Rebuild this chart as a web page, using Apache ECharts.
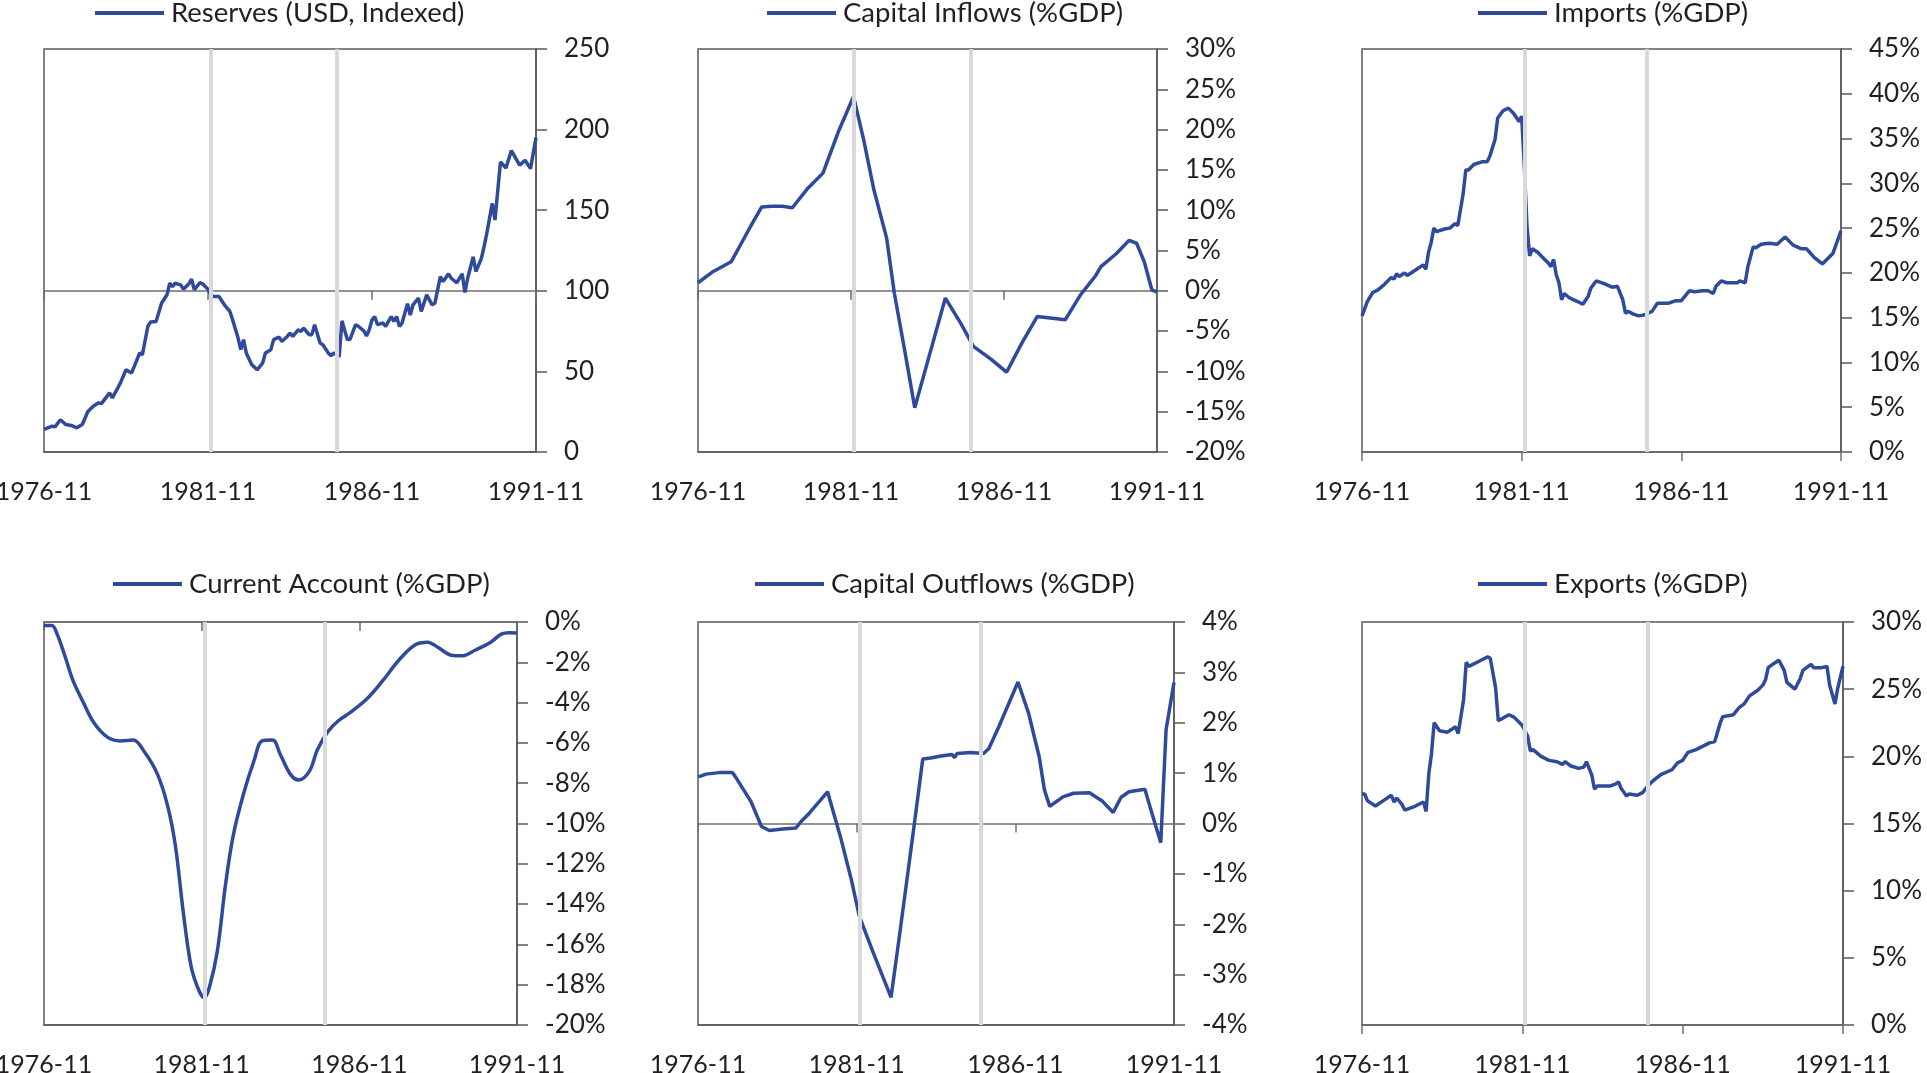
<!DOCTYPE html>
<html>
<head>
<meta charset="utf-8">
<script src="https://cdn.jsdelivr.net/npm/echarts@6/dist/echarts.min.js"></script>
<style>
html,body{margin:0;padding:0;background:#fff;}
#c{width:1927px;height:1073px;}
</style>
</head>
<body>
<div id="c"></div>
<script>
// x values are months since 1976-11 (0 = 1976-11, 180 = 1991-11)
const xTickLabels = ['1976-11', '1981-11', '1986-11', '1991-11'];
const shadeMonths = [61, 107]; // 1981-12, 1985-10

const reservesMonths = [0,3,4,6,8,10,12,14,16,18,20,21,24,25,27,28,30,32,33,35,36,38,39,41,43,45,46,47,48,50,51,53,54,55,57,58,60,61,62,64,66,68,69,71,72,73,74,76,78,80,81,83,84,86,87,89,90,91,93,94,95,97,98,99,101,102,104,105,106,108,109,111,112,114,115,117,118,119,120,121,122,124,125,127,128,129,130,131,133,134,135,137,138,140,142,143,145,146,148,149,151,153,154,155,157,158,160,161,162,164,165,167,169,171,174,176,178,180];
const reservesValues = [14,16,15.6,20,17,16.5,15,17,25,28.4,30.5,30,36.7,33.6,39.8,43,51,49,53,61.4,60.4,78,80.6,81,92.3,97.5,104.8,102.6,104.7,103.7,101,104.3,107.2,100.6,105,104.3,101,97.5,96.5,96.5,91.3,87.2,82,70.7,63.5,69.7,61.4,54.2,51,55.2,61.4,63.5,69.7,71.3,68.6,71.7,73.8,71.7,75.8,74.8,76.9,72.8,72.8,78.9,67.6,66.6,61.4,59.8,61.4,59,81.4,69.7,70,79,78,75.2,72,75.8,82,84,79,80,78,84,81,84,78,80,92,85,91.3,95.4,87.2,97.5,91.3,92.3,108.8,105.7,110.5,107.8,105,110.5,99,107.8,121,112,120,127.4,135.6,154.2,143.9,180,176.2,187,177.9,181,175.8,195];

const inflowsMonths = [0,6,13,17,21,25,29,33,37,43,49,55,61,65,69,74,77,81,85,91,97,103,108,115,121,127,133,139,144,150,156,158,164,169,172,175,178,180];
const inflowsValues = [1.0,2.4,3.6,5.9,8.2,10.4,10.5,10.5,10.3,12.7,14.6,19.7,24.1,18.7,12.5,6.5,-0.3,-7.3,-14.5,-7.7,-0.9,-4.0,-6.9,-8.5,-10.1,-6.5,-3.2,-3.4,-3.6,-0.5,1.9,3.0,4.6,6.25,5.9,3.6,0.1,-0.15];

const importsMonths = [0,2,4,6,8,11,12,13,14,16,17,20,23,24,25,26,27,28,31,33,35,36,38,39,40,42,45,47,48,50,51,53,55,57,59,60,61,62,63,64,66,68,70,71,72,73,74,75,76,78,81,83,85,86,88,91,94,96,98,99,100,102,104,106,109,111,115,118,120,123,125,128,130,132,133,135,137,141,142,144,145,147,148,150,153,156,159,162,165,167,170,173,177,180];
const importsValues = [15.2,16.8,17.8,18.1,18.6,19.5,19.3,19.9,19.6,20.0,19.7,20.3,20.9,20.4,22.3,23.4,25.0,24.6,24.9,25.0,25.5,25.3,28.8,31.5,31.5,32.1,32.4,32.4,33.0,34.9,37.3,38.1,38.4,37.8,36.9,37.5,31.9,25.2,21.9,22.7,22.3,21.7,21.1,20.7,21.5,19.8,18.9,17.0,17.7,17.2,16.8,16.5,17.4,18.3,19.1,18.8,18.4,18.5,17.0,15.5,15.7,15.4,15.2,15.3,15.7,16.6,16.6,16.9,16.9,18.0,17.9,18.0,18.0,17.7,18.5,19.1,18.9,18.9,19.1,18.9,20.7,22.9,22.8,23.2,23.3,23.2,24.0,23.1,22.7,22.7,21.7,21.0,22.2,24.7];

const currentMonths = [0,3,5,8,11,15,19,24,29,34,38,43,47,50,53,56,59,61,63,66,69,72,76,80,83,87,90,94,97,101,104,108,112,117,123,129,135,141,146,150,155,159,164,170,174,177,180];
const currentValues = [-0.17,-0.17,-0.6,-1.7,-2.9,-4.0,-5.0,-5.7,-5.9,-5.86,-6.4,-7.5,-9.1,-11.1,-14.4,-17.1,-18.3,-18.65,-18.1,-16.3,-13.1,-10.6,-8.5,-6.85,-5.9,-5.86,-6.6,-7.6,-7.84,-7.4,-6.35,-5.45,-4.9,-4.45,-3.8,-2.9,-1.9,-1.15,-1.0,-1.27,-1.65,-1.68,-1.4,-1.0,-0.6,-0.53,-0.54];

const outflowsMonths = [0,1,3,8,13,14,20,24,27,32,37,39,42,49,54,58,61,66,73,76,79,82,85,88,92,96,97,98,103,108,110,114,121,125,129,131,133,138,142,148,153,157,160,163,169,171,175,177,180];
const outflowsValues = [0.93,0.94,0.98,1.01,1.01,0.94,0.44,-0.06,-0.14,-0.11,-0.09,0.04,0.2,0.63,-0.29,-1.12,-1.84,-2.53,-3.45,-2.3,-1.12,0.07,1.28,1.3,1.34,1.37,1.31,1.39,1.41,1.39,1.49,1.95,2.81,2.19,1.33,0.67,0.34,0.53,0.6,0.61,0.44,0.22,0.52,0.63,0.68,0.32,-0.38,1.86,2.8];

const exportsMonths = [0,1,2,5,8,11,12,13,15,16,20,23,24,25,26,27,29,32,35,36,38,39,40,44,47,48,50,51,55,57,60,62,63,64,67,70,73,75,76,78,81,83,84,86,87,88,93,95,96,97,99,100,103,105,107,109,112,116,118,120,122,125,128,130,132,134,135,139,141,143,145,148,150,151,152,154,156,158,159,162,164,165,168,169,172,174,175,177,178,180];
const exportsValues = [17.2,17.2,16.7,16.3,16.7,17.1,16.6,16.9,16.4,16.0,16.3,16.6,15.9,18.7,20.2,22.5,21.9,21.8,22.2,21.7,24.2,27.0,26.7,27.1,27.4,27.3,25.1,22.65,23.1,22.9,22.3,21.5,20.4,20.5,20.0,19.7,19.6,19.4,19.6,19.3,19.1,19.2,19.6,18.6,17.55,17.8,17.8,17.95,18.1,17.6,17.05,17.2,17.1,17.3,17.8,18.2,18.65,19.0,19.5,19.7,20.3,20.5,20.8,21.0,21.1,22.45,22.95,23.1,23.6,23.9,24.5,24.9,25.3,25.7,26.6,26.9,27.15,26.4,25.5,25.0,25.8,26.4,26.85,26.6,26.6,26.7,25.3,23.9,25.05,26.7];

const panels = [
  {name:'Reserves (USD, Indexed)', x:reservesMonths, y:reservesValues, min:0, max:250, interval:50, fmt:'{value}', cross:100, smooth:false,
   left:44, width:492, top:49, legendLeft:95, legendTop:-1},
  {name:'Capital Inflows (%GDP)', x:inflowsMonths, y:inflowsValues, min:-20, max:30, interval:5, fmt:'{value}%', cross:0, smooth:false,
   left:698, width:459, top:49, legendLeft:767, legendTop:-1},
  {name:'Imports (%GDP)', x:importsMonths, y:importsValues, min:0, max:45, interval:5, fmt:'{value}%', cross:0, smooth:false,
   left:1362, width:479, top:49, legendLeft:1478, legendTop:-1},
  {name:'Current Account (%GDP)', x:currentMonths, y:currentValues, min:-20, max:0, interval:2, fmt:'{value}%', cross:0, smooth:0.35,
   left:44, width:473, top:622, legendLeft:113, legendTop:570},
  {name:'Capital Outflows (%GDP)', x:outflowsMonths, y:outflowsValues, min:-4, max:4, interval:1, fmt:'{value}%', cross:0, smooth:false,
   left:698, width:476, top:622, legendLeft:755, legendTop:570},
  {name:'Exports (%GDP)', x:exportsMonths, y:exportsValues, min:0, max:30, interval:5, fmt:'{value}%', cross:0, smooth:false,
   left:1362, width:481, top:622, legendLeft:1478, legendTop:570}
];

const GRID_H = 403;
const FONT = 'Lato, "Open Sans", sans-serif';
const TEXT = '#231f20';
const AXIS = '#595959';
const BLUE = '#2f4a9b';

function monthLabel(v) {
  const total = 10 + Math.round(v);
  const yr = 1976 + Math.floor(total / 12);
  const mo = (total % 12) + 1;
  return yr + '-' + (mo < 10 ? '0' + mo : mo);
}

const option = {
  animation: false,
  backgroundColor: '#fff',
  textStyle: {fontFamily: FONT},
  grid: [], xAxis: [], yAxis: [], series: [], legend: []
};

panels.forEach((p, i) => {
  option.grid.push({left:p.left, top:p.top, width:p.width, height:GRID_H, containLabel:false, outerBoundsMode:'none',
    show:true, borderColor:AXIS, borderWidth:1.5, backgroundColor:'transparent'});
  // bottom axis carrying the date labels
  option.xAxis.push({type:'value', gridIndex:i, min:0, max:180, interval:60, position:'bottom',
    axisLine:{show:true, onZero:false, lineStyle:{color:AXIS, width:1.5}},
    axisTick:{show:false}, splitLine:{show:false},
    axisLabel:{show:true, margin:27, fontSize:25, color:TEXT, fontFamily:FONT,
      formatter: v => xTickLabels[Math.round(v / 60)] || monthLabel(v)}});
  // crossing line (at 0, or at 100 for the index)
  const off = -(p.cross - p.min) / (p.max - p.min) * GRID_H;
  option.xAxis.push({type:'value', gridIndex:i, min:0, max:180, interval:60, position:'bottom', offset:off,
    axisLine:{show:true, onZero:false, lineStyle:{color:'#6f6f6f', width:1.5}},
    axisTick:{show:true, length:9, lineStyle:{color:'#6f6f6f', width:1.5}},
    axisLabel:{show:false}, splitLine:{show:false}});
  option.yAxis.push({type:'value', gridIndex:i, position:'right', min:p.min, max:p.max, interval:p.interval,
    axisLine:{show:true, onZero:false, lineStyle:{color:AXIS, width:1.5}},
    axisTick:{show:true, length:11, lineStyle:{color:AXIS, width:1.5}},
    splitLine:{show:false},
    axisLabel:{margin:28, fontSize:26, color:TEXT, fontFamily:FONT, formatter:p.fmt}});
  option.series.push({type:'line', name:'shade' + i, xAxisIndex:2 * i, yAxisIndex:i, data:[], z:1, silent:true,
    markLine:{silent:true, symbol:['none','none'], label:{show:false},
      lineStyle:{color:'#d9d9d9', width:4, type:'solid'},
      data: shadeMonths.map(m => ({xAxis:m}))}});
  option.series.push({type:'line', name:p.name, xAxisIndex:2 * i, yAxisIndex:i, z:3,
    data: p.x.map((m, k) => [m, p.y[k]]),
    showSymbol:false, symbol:'none', smooth:p.smooth,
    lineStyle:{color:BLUE, width:3.5}, itemStyle:{color:BLUE}});
  option.legend.push({data:[p.name], left:p.legendLeft, top:p.legendTop, padding:0, itemWidth:69, itemHeight:4, icon:'rect',
    itemGap:0, textStyle:{fontSize:27.5, color:TEXT, fontFamily:FONT, padding:[0,0,0,2]}, selectedMode:false});
});

const chart = echarts.init(document.getElementById('c'));
chart.setOption(option);
</script>
</body>
</html>
